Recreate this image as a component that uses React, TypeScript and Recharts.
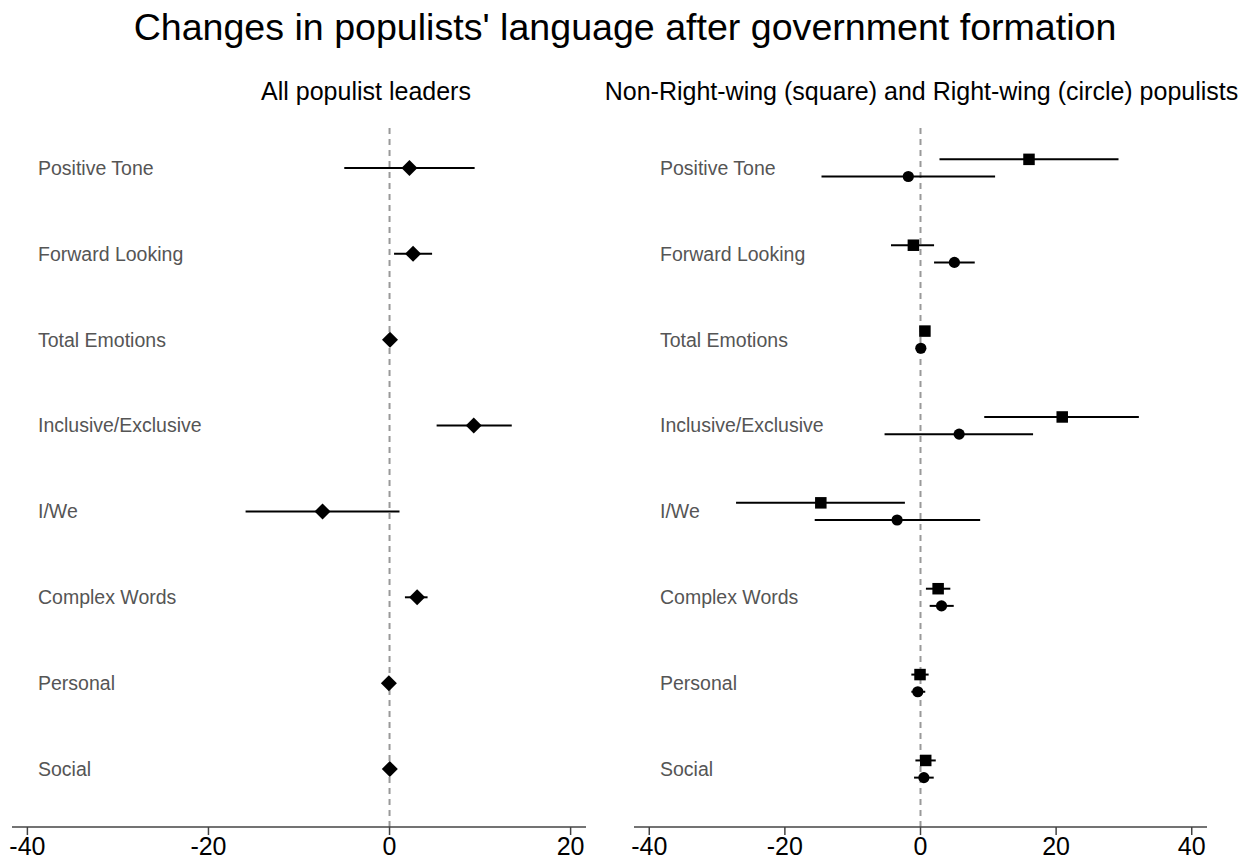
import React from "react";
import {
  ScatterChart,
  Scatter,
  XAxis,
  YAxis,
  ErrorBar,
  ReferenceLine,
} from "recharts";

const categories = [
  "Positive Tone",
  "Forward Looking",
  "Total Emotions",
  "Inclusive/Exclusive",
  "I/We",
  "Complex Words",
  "Personal",
  "Social",
];

// all populist leaders (diamonds)
const allEst = [2.2, 2.6, 0.05, 9.3, -7.4, 3.05, -0.07, 0.03];
const allLow = [-5.0, 0.5, -0.2, 5.2, -15.9, 1.7, -0.3, -0.2];
const allHigh = [9.4, 4.7, 0.3, 13.5, 1.1, 4.2, 0.2, 0.25];

// non-right-wing populists (squares)
const nonRightEst = [16.0, -1.05, 0.65, 20.9, -14.7, 2.6, -0.07, 0.77];
const nonRightLow = [2.8, -4.35, 0.2, 9.4, -27.2, 0.8, -1.35, -0.75];
const nonRightHigh = [29.2, 2.0, 1.1, 32.2, -2.3, 4.4, 1.2, 2.25];

// right-wing populists (circles)
const rightEst = [-1.8, 5.0, 0.05, 5.7, -3.45, 3.1, -0.4, 0.5];
const rightLow = [-14.6, 2.0, -0.3, -5.3, -15.6, 1.35, -1.35, -0.95];
const rightHigh = [11.0, 8.0, 0.4, 16.6, 8.8, 4.9, 0.7, 1.95];

const leftTicks = [-40, -20, 0, 20];
const rightTicks = [-40, -20, 0, 20, 40];
const rowTicks = categories.map((_, i) => i);

const font = '"Liberation Sans", Arial, sans-serif';

const toRows = (est: number[], low: number[], high: number[], shift: number) =>
  est.map((v, i) => ({
    name: categories[i],
    row: i + shift,
    est: v,
    err: [v - low[i], high[i] - v],
  }));

const allRows = toRows(allEst, allLow, allHigh, 0);
const nonRightRows = toRows(nonRightEst, nonRightLow, nonRightHigh, -0.1);
const rightRows = toRows(rightEst, rightLow, rightHigh, 0.1);

const Diamond = (props: any) => {
  const { cx, cy } = props;
  return (
    <polygon
      points={`${cx},${cy - 8} ${cx + 8},${cy} ${cx},${cy + 8} ${cx - 8},${cy}`}
      fill="#000"
    />
  );
};

const Square = (props: any) => {
  const { cx, cy } = props;
  return <rect x={cx - 5.75} y={cy - 5.75} width={11.5} height={11.5} fill="#000" />;
};

const Dot = (props: any) => {
  const { cx, cy } = props;
  return <circle cx={cx} cy={cy} r={5.6} fill="#000" />;
};

// category name, left-aligned inside the plot area
const RowLabel = (props: any) => {
  const { x, y, payload } = props;
  return (
    <text
      x={x}
      y={y}
      dy="0.355em"
      textAnchor="start"
      fontSize={19.5}
      fontFamily={font}
      fill="#555"
    >
      {categories[payload.value]}
    </text>
  );
};

type PanelProps = {
  left: number;
  width: number;
  margin: { top: number; right: number; bottom: number; left: number };
  domain: [number, number];
  ticks: number[];
  children: React.ReactNode;
};

const Panel = ({ left, width, margin, domain, ticks, children }: PanelProps) => (
  <div style={{ position: "absolute", left, top: 0 }}>
    <ScatterChart width={width} height={868} margin={margin}>
      <XAxis
        type="number"
        dataKey="est"
        domain={domain}
        ticks={ticks}
        interval={0}
        allowDataOverflow
        height={40}
        tickSize={8}
        tickMargin={2}
        stroke="#444"
        strokeWidth={1.5}
        tick={{ fill: "#000", fontSize: 25, fontFamily: font }}
      />
      <YAxis
        type="number"
        dataKey="row"
        domain={[-0.5, 7.675]}
        reversed
        ticks={rowTicks}
        interval={0}
        mirror
        axisLine={false}
        tickLine={false}
        tickSize={0}
        tickMargin={26}
        tick={<RowLabel />}
      />
      <ReferenceLine x={0} stroke="#999" strokeWidth={2} strokeDasharray="6 5" />
      {children}
    </ScatterChart>
  </div>
);

export default function App() {
  return (
    <div
      style={{
        position: "absolute",
        left: 0,
        top: 0,
        width: 1251,
        height: 868,
        background: "#fff",
        fontFamily: font,
      }}
    >
      <Panel
        left={0}
        width={620}
        margin={{ top: 125, right: 34, bottom: 1, left: 12 }}
        domain={[-41.7, 21.7]}
        ticks={leftTicks}
      >
        <Scatter data={allRows} shape={<Diamond />} isAnimationActive={false}>
          <ErrorBar dataKey="err" direction="x" width={0} stroke="#000" strokeWidth={2} />
        </Scatter>
      </Panel>
      <Panel
        left={620}
        width={631}
        margin={{ top: 125, right: 44, bottom: 1, left: 14 }}
        domain={[-42.25, 42.25]}
        ticks={rightTicks}
      >
        <Scatter data={nonRightRows} shape={<Square />} isAnimationActive={false}>
          <ErrorBar dataKey="err" direction="x" width={0} stroke="#000" strokeWidth={2} />
        </Scatter>
        <Scatter data={rightRows} shape={<Dot />} isAnimationActive={false}>
          <ErrorBar dataKey="err" direction="x" width={0} stroke="#000" strokeWidth={2} />
        </Scatter>
      </Panel>
      <svg
        width={1251}
        height={868}
        style={{ position: "absolute", left: 0, top: 0, pointerEvents: "none" }}
      >
        <text x={625} y={40} textAnchor="middle" fontSize={37.6} fontFamily={font} fill="#000">
          Changes in populists' language after government formation
        </text>
        <text x={366} y={100} textAnchor="middle" fontSize={25} fontFamily={font} fill="#000">
          All populist leaders
        </text>
        <text x={921.5} y={100} textAnchor="middle" fontSize={25} fontFamily={font} fill="#000">
          Non-Right-wing (square) and Right-wing (circle) populists
        </text>
      </svg>
    </div>
  );
}
